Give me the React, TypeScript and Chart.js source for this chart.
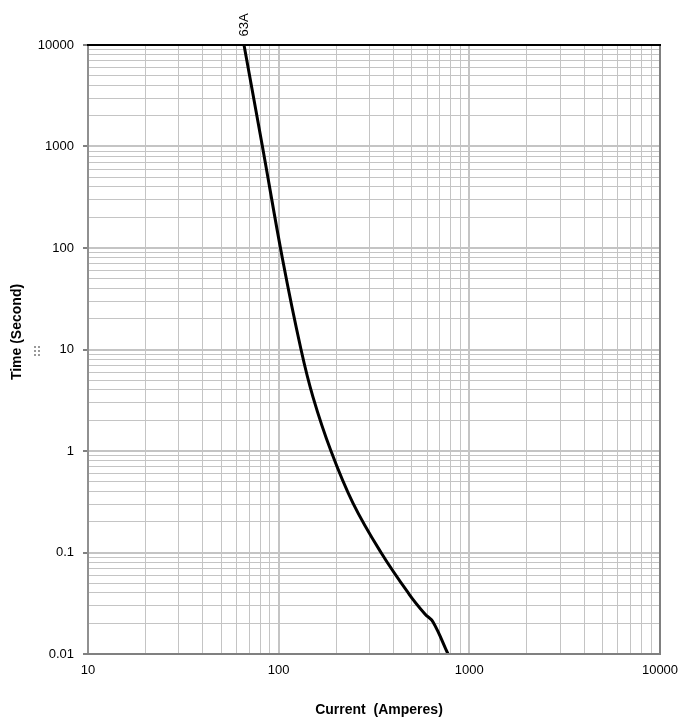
import React, { useEffect, useRef } from "react";
import { Chart, registerables } from "chart.js";

Chart.register(...registerables);

// Data (log-log fuse curve, 63A)
const currents = [65.8, 82.2, 105, 131, 151.4, 188.1, 245.3, 344.1, 482.6, 585, 645, 773];
const times = [10000, 1000, 76.2, 10, 3.4, 1, 0.307, 0.1, 0.039, 0.0248, 0.0207, 0.01];
const curveLabel = "63A";

const xDecades = [10, 100, 1000];
const yDecades = [0.01, 0.1, 1, 10, 100, 1000];
const multipliers = [1, 2, 3, 4, 5, 6, 7, 8, 9];
const xMajorLabels = ["10", "100", "1000", "10000"];
const yMajorLabels = ["0.01", "0.1", "1", "10", "100", "1000", "10000"];

const xTitle = "Current  (Amperes)";
const yTitle = "Time (Second)";

function buildTicks(decades: number[], last: number) {
  const out: number[] = [];
  decades.forEach((d) => multipliers.forEach((m) => out.push(Number((m * d).toPrecision(6)))));
  out.push(last);
  return out;
}
const isMajor = (v: number) => Math.abs(Math.log10(v) - Math.round(Math.log10(v))) < 1e-9;
const majorLabel = (v: number, labels: string[]) => {
  const found = labels.find((l) => Math.abs(Number(l) - v) / v < 1e-9);
  return found ?? "";
};

const FONT = "'Liberation Sans', Arial, sans-serif";

export default function App() {
  const ref = useRef<HTMLCanvasElement | null>(null);
  useEffect(() => {
    document.body.style.margin = "0";
    const canvas = ref.current!;
    const xTicks = buildTicks(xDecades, 10000);
    const yTicks = buildTicks(yDecades, 10000);

    const decor = {
      id: "decor",
      afterDraw(chart: any) {
        const { ctx, chartArea: a } = chart;
        ctx.save();
        // borders
        ctx.lineCap = "butt";
        ctx.strokeStyle = "#909090";
        ctx.lineWidth = 2;
        ctx.beginPath();
        ctx.moveTo(a.left, a.top);
        ctx.lineTo(a.left, a.bottom);
        ctx.stroke();
        ctx.strokeStyle = "#808080";
        ctx.beginPath();
        ctx.moveTo(a.left - 1, a.bottom);
        ctx.lineTo(a.right + 1, a.bottom);
        ctx.moveTo(a.right, a.top);
        ctx.lineTo(a.right, a.bottom);
        ctx.stroke();
        ctx.strokeStyle = "#000";
        ctx.beginPath();
        ctx.moveTo(a.left - 1, a.top);
        ctx.lineTo(a.right + 1, a.top);
        ctx.stroke();

        // axis titles
        ctx.fillStyle = "#000";
        ctx.font = `bold 14px ${FONT}`;
        ctx.textAlign = "center";
        ctx.textBaseline = "middle";
        ctx.fillText(xTitle, 379, 710);
        ctx.save();
        ctx.translate(17, 332);
        ctx.rotate(-Math.PI / 2);
        ctx.fillText(yTitle, 0, 0);
        ctx.restore();

        // curve label
        const xs = chart.scales.x;
        const lx = xs.getPixelForValue(currents[0]);
        ctx.save();
        ctx.translate(lx, 25);
        ctx.rotate(-Math.PI / 2);
        ctx.font = `13px ${FONT}`;
        ctx.fillText(curveLabel, 0, 0);
        ctx.restore();

        // small grip dots
        ctx.fillStyle = "#999";
        for (let c = 0; c < 2; c++) {
          for (let r = 0; r < 3; r++) {
            ctx.fillRect(34 + c * 4, 346 + r * 4, 2, 2);
          }
        }
        ctx.restore();
      },
    };

    const chart = new Chart(canvas, {
      type: "line",
      data: {
        datasets: [
          {
            data: currents.map((c, i) => ({ x: c, y: times[i] })),
            borderColor: "#000",
            borderWidth: 3,
            pointRadius: 0,
            tension: 0.4,
            fill: false,
          },
        ],
      },
      options: {
        responsive: false,
        animation: false,
        devicePixelRatio: 1,
        layout: { padding: { left: 0, top: 45, right: 23, bottom: 0 } },
        plugins: { legend: { display: false }, tooltip: { enabled: false } },
        scales: {
          x: {
            type: "logarithmic",
            min: 10,
            max: 10000,
            afterBuildTicks: (s: any) => {
              s.ticks = xTicks.map((v) => ({ value: v }));
            },
            afterFit: (s: any) => {
              s.height = 68;
              s.paddingLeft = 0;
              s.paddingRight = 0;
            },
            ticks: {
              autoSkip: false,
              maxRotation: 0,
              padding: 9,
              color: "#000",
              font: { family: FONT, size: 13 },
              callback: (v: any) => majorLabel(Number(v), xMajorLabels),
            },
            grid: {
              color: "#c4c4c4",
              lineWidth: (c: any) => (c.tick && isMajor(c.tick.value) ? 2 : 1),
              drawTicks: false,
            },
            border: { display: false },
          },
          y: {
            type: "logarithmic",
            min: 0.01,
            max: 10000,
            afterBuildTicks: (s: any) => {
              s.ticks = yTicks.map((v) => ({ value: v }));
            },
            afterFit: (s: any) => {
              s.width = 88;
              s.paddingTop = 0;
              s.paddingBottom = 0;
            },
            ticks: {
              autoSkip: false,
              padding: 9,
              color: "#000",
              font: { family: FONT, size: 13 },
              callback: (v: any) => majorLabel(Number(v), yMajorLabels),
            },
            grid: {
              color: "#c4c4c4",
              lineWidth: (c: any) => (c.tick && isMajor(c.tick.value) ? 2 : 1),
              drawTicks: true,
              tickLength: 5,
              tickColor: (c: any) => (c.tick && isMajor(c.tick.value) ? "#808080" : "rgba(0,0,0,0)"),
            },
            border: { display: false },
          },
        },
      } as any,
      plugins: [decor],
    });
    return () => chart.destroy();
  }, []);
  return <canvas ref={ref} width={683} height={722} style={{ display: "block" }} />;
}
